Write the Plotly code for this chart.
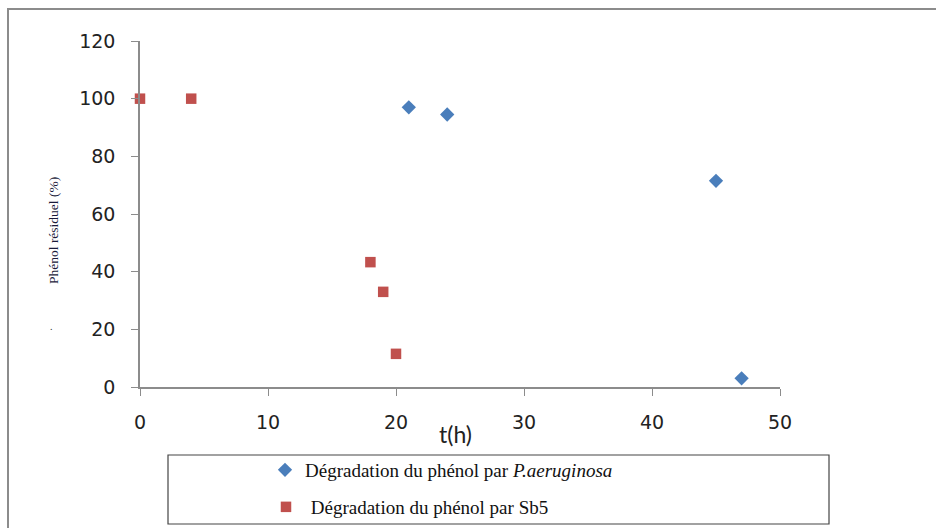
import plotly.graph_objects as go

# Temps (h) et phénol résiduel (%)
t_pa = [21, 24, 45, 47]
phenol_pa = [97, 94.5, 71.5, 3]
t_sb5 = [0, 4, 18, 19, 20]
phenol_sb5 = [100, 100, 43.3, 33, 11.5]

x_ticks = [0, 10, 20, 30, 40, 50]
y_ticks = [0, 20, 40, 60, 80, 100, 120]

name_pa = "Dégradation du phénol par <i>P.aeruginosa</i>"
name_sb5 = "\u00a0Dégradation du phénol par Sb5"

W, H = 936, 528
L, R, T, B = 140, 156, 41, 141
pw, ph = W - L - R, H - T - B


def px(xp):
    return (xp - L) / pw


def py(yp):
    return (H - B - yp) / ph


fig = go.Figure()
fig.add_trace(go.Scatter(
    x=t_pa, y=phenol_pa, mode="markers", name=name_pa,
    marker=dict(symbol="diamond", size=11, color="#4a7ebb"),
    cliponaxis=False, legend="legend",
))
fig.add_trace(go.Scatter(
    x=t_sb5, y=phenol_sb5, mode="markers", name=name_sb5,
    marker=dict(symbol="square", size=10.5, color="#c0504d"),
    cliponaxis=False, legend="legend2",
))

axis_common = dict(
    showgrid=False, zeroline=False, showline=True, linecolor="#8c8c8c",
    linewidth=1.5, ticks="outside", tickcolor="#8c8c8c", ticklen=7,
    tickfont=dict(family="DejaVu Sans", size=19, color="#222222"),
)

legend_font = dict(family="Liberation Serif", size=19, color="#111111")

fig.update_layout(
    width=W, height=H,
    margin=dict(l=L, r=R, t=T, b=B, autoexpand=False),
    paper_bgcolor="white", plot_bgcolor="white",
    xaxis=dict(range=[0, 50], tickvals=x_ticks, ticklabelstandoff=10, **axis_common),
    yaxis=dict(range=[0, 120], tickvals=y_ticks, ticklabelstandoff=12, **axis_common),
    legend=dict(x=px(265), y=py(470), xanchor="left", yanchor="middle",
                bgcolor="rgba(0,0,0,0)", font=legend_font),
    legend2=dict(x=px(266), y=py(507), xanchor="left", yanchor="middle",
                 bgcolor="rgba(0,0,0,0)", font=legend_font),
    showlegend=True,
    shapes=[
        # cadre extérieur
        dict(type="rect", xref="paper", yref="paper",
             x0=px(8), x1=px(960), y0=py(560), y1=py(9),
             line=dict(color="#8c8c8c", width=2)),
        # cadre de la légende
        dict(type="rect", xref="paper", yref="paper",
             x0=px(168), x1=px(829), y0=py(524), y1=py(455),
             line=dict(color="#444444", width=1.2)),
    ],
    annotations=[
        dict(text="t(h)", xref="paper", yref="paper", x=px(455), y=py(434),
             xanchor="center", yanchor="middle", showarrow=False,
             font=dict(family="Lato", size=23, color="#222222")),
        dict(text="Phénol résiduel (%)", xref="paper", yref="paper",
             x=px(53), y=py(231), xanchor="center", yanchor="middle",
             textangle=-90, showarrow=False,
             font=dict(family="Liberation Serif", size=13.5, color="#1a1a3a")),
        dict(text=".", xref="paper", yref="paper", x=px(51), y=py(326),
             xanchor="center", yanchor="middle", showarrow=False,
             font=dict(family="Liberation Serif", size=10, color="#333333")),
    ],
)

fig.write_html("out.html")
